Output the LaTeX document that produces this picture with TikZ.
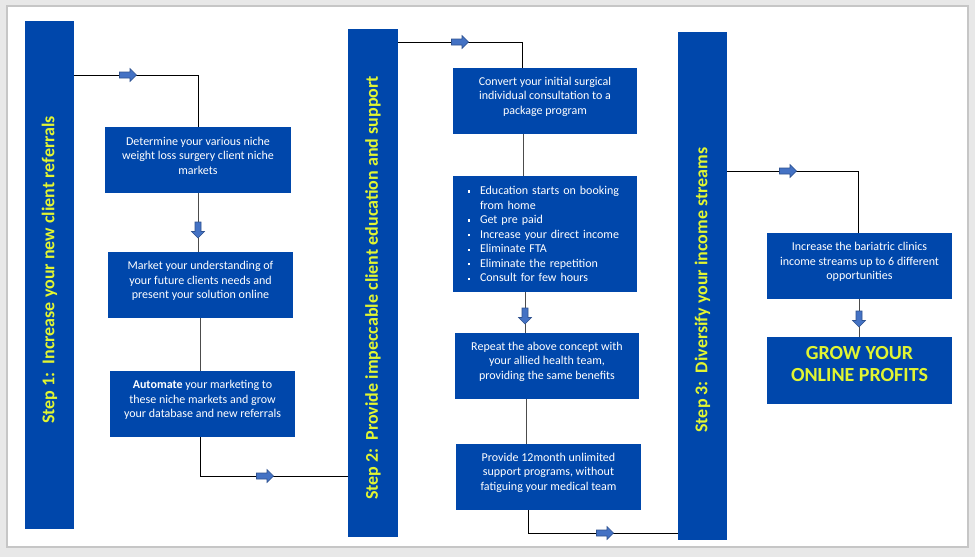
\documentclass[tikz,border=0pt]{standalone}
\usepackage{fontspec}
\setmainfont{Carlito}
\usetikzlibrary{fit,calc}
\definecolor{boxblue}{RGB}{0,71,171}
\definecolor{ylw}{RGB}{225,245,50}
\definecolor{arrfill}{RGB}{68,114,196}
\definecolor{arrdraw}{RGB}{47,82,143}
\definecolor{bggray}{RGB}{232,232,232}
\newcommand\bul{\makebox[9pt][l]{\raisebox{0.3ex}{\rule{1.8pt}{1.8pt}}}}
\begin{document}
\begin{tikzpicture}[x=0.75pt,y=-0.75pt,
  box/.style={fill=boxblue, inner sep=0pt, text=white, font=\fontsize{9}{10.9}\selectfont, align=center},
  bar/.style={fill=boxblue, inner sep=0pt},
  bartext/.style={rotate=90, text=ylw, font=\fontsize{13.5}{15}\selectfont\bfseries},
  conn/.style={draw=black, line width=0.7pt},
  vconn/.style={draw=black!70, line width=0.7pt},
  rarr/.pic={\filldraw[fill=arrfill, draw=arrdraw, line width=0.4pt]
     (-8.5,-3) -- (2,-3) -- (2,-6.5) -- (8.5,0) -- (2,6.5) -- (2,3) -- (-8.5,3) -- cycle;},
  darr/.pic={\filldraw[fill=arrfill, draw=arrdraw, line width=0.4pt]
     (-3,-8) -- (3,-8) -- (3,1.5) -- (6.5,1.5) -- (0,8) -- (-6.5,1.5) -- (-3,1.5) -- cycle;}
]
\fill[bggray] (0,0) rectangle (975,557);
\draw[fill=white, draw=gray!45, line width=0.8pt] (7,6) rectangle (968,547);

% Step bars
\node[bar, fit={(25,21) (74,529)}] (s1) {};
\node[bartext] (t1) at (49.5,270) {Step 1:\ \ Increase your new client referrals};
\node[bar, fit={(348,29) (398,537)}] (s2) {};
\node[bartext] (t2) at (373,288) {Step 2:\ \ Provide impeccable client education and support};
\node[bar, fit={(678,32) (727,540)}] (s3) {};
\node[bartext] (t3) at (702.5,290) {Step 3:\ \ Diversify your income streams};

% Step 1 boxes
\node[box, fit={(105,127) (291,193)}] (a) {Determine your various niche\\weight loss surgery client niche\\markets};
\node[box, fit={(108,252) (293,318)}] (b) {Market your understanding of\\your future clients needs and\\present your solution online};
\node[box, fit={(110,371) (295,437)}] (c) {\textbf{Automate} your marketing to\\these niche markets and grow\\your database and new referrals};

% Step 2 boxes
\node[box, fit={(453,68) (637,134)}] (d) {Convert your initial surgical\\individual consultation to a\\package program};
\node[box, minimum width=138pt, minimum height=87pt, text width=115.5pt, align=left] (e) at (545,234) {\bul Education starts on booking\\\hspace*{9pt}from home\\\bul Get pre paid\\\bul Increase your direct income\\\bul Eliminate FTA\\\bul Eliminate the repetition\\\bul Consult for few hours};
\node[box, fit={(455,333) (639,399)}] (f) {Repeat the above concept with\\your allied health team,\\providing the same benefits};
\node[box, fit={(456,444) (641,510)}] (g) {Provide 12month unlimited\\support programs, without\\fatiguing your medical team};

% Step 3 boxes
\node[box, fit={(767,233) (952,299)}] (h) {Increase the bariatric clinics\\income streams up to 6 different\\opportunities};
\node[box, fit={(767,337) (952,404)}, text=ylw, font=\fontsize{15}{17}\selectfont\bfseries] (i) {GROW YOUR\\ONLINE PROFITS};

% junction coordinates
\coordinate (j1) at (198,75);
\coordinate (j2) at (200,476);
\coordinate (j3) at (522,42);
\coordinate (j4) at (528,533);
\coordinate (j5) at (858,171);

% connectors
\draw[conn] (s1.east |- j1) -- (j1) -- (j1 |- a.north);
\draw[vconn] (j1 |- a.south) -- (j1 |- b.north);
\draw[vconn] (j2 |- b.south) -- (j2 |- c.north);
\draw[conn] (j2 |- c.south) -- (j2) -- (j2 -| s2.west);
\draw[conn] (s2.east |- j3) -- (j3) -- (j3 |- d.north);
\draw[vconn] (523,0 |- d.south) -- (523,0 |- e.north);
\draw[vconn] (525,0 |- e.south) -- (525,0 |- f.north);
\draw[vconn] (526,0 |- f.south) -- (526,0 |- g.north);
\draw[conn] (j4 |- g.south) -- (j4) -- (j4 -| s3.west);
\draw[conn] (s3.east |- j5) -- (j5) -- (j5 |- h.north);
\draw[vconn] (859,0 |- h.south) -- (859,0 |- i.north);

% block arrows
\pic at (128,75) {rarr};
\pic at (198,230) {darr};
\pic at (265,476) {rarr};
\pic at (460,42) {rarr};
\pic at (525,316) {darr};
\pic at (605,533) {rarr};
\pic at (788,171) {rarr};
\pic at (859,319) {darr};
\end{tikzpicture}
\end{document}
